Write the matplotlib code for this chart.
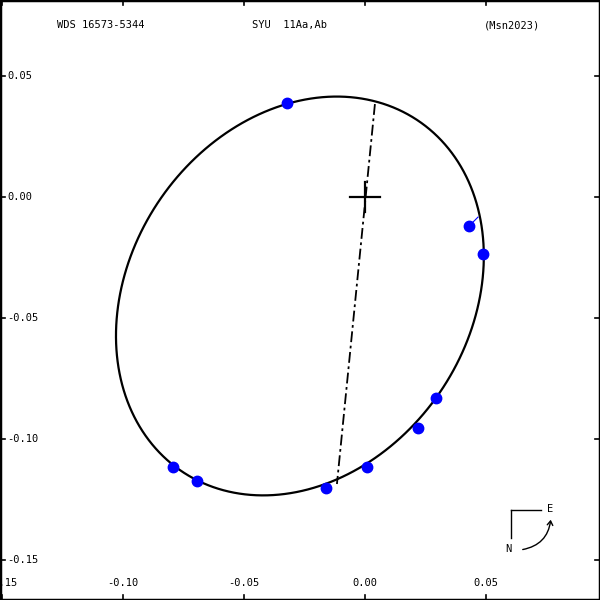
import numpy as np
import matplotlib
matplotlib.use("Agg")
import matplotlib.pyplot as plt
from matplotlib.patches import FancyArrowPatch

# --- data ---
obs_x = [-0.0322, 0.0430, 0.0488, 0.0293, 0.0219, 0.0008, -0.0161, -0.0694, -0.0793]
obs_y = [0.0388, -0.0120, -0.0236, -0.0831, -0.0955, -0.1116, -0.1202, -0.1174, -0.1116]
# residual line for one point (to orbit)
res_x = [0.0430, 0.0467]
res_y = [-0.0120, -0.0083]
# orbit ellipse parameters (center, half-extents, phase)
orb_cx, orb_cy = -0.0269, -0.0409
orb_hx, orb_hy = 0.0760, 0.0824
orb_cosphi = 0.20
# line of nodes end points
node_x = [0.0041, -0.0116]
node_y = [0.0384, -0.1186]
xticks = [-0.15, -0.10, -0.05, 0.00, 0.05]
xtick_labels = ["-0.15", "-0.10", "-0.05", "0.00", "0.05"]
yticks = [0.05, 0.00, -0.05, -0.10, -0.15]
ytick_labels = ["-0.05".replace("-", ""), "0.00", "-0.05", "-0.10", "-0.15"]
ytick_labels[0] = "-0.05" if False else "0.05"

PX = 2420.0
X0, Y0 = 365.0, 197.0

fig = plt.figure(figsize=(6, 6), dpi=100)
ax = fig.add_axes([0, 0, 1, 1])
ax.set_xlim((0 - X0) / PX, (600 - X0) / PX)
ax.set_ylim((Y0 - 600) / PX, (Y0 - 0) / PX)

mono = "DejaVu Sans Mono"

# orbit
t = np.linspace(0, 2 * np.pi, 400)
phi = np.arccos(orb_cosphi)
ex = orb_cx + orb_hx * np.cos(t)
ey = orb_cy + orb_hy * np.cos(t - phi)
ax.plot(ex, ey, color="black", lw=1.6, zorder=2)

# line of nodes
ax.plot(node_x, node_y, color="black", lw=1.3, dashes=(6, 2, 1.5, 2), zorder=2)

# central star cross
c = 15 / PX
ax.plot([-c, c], [0, 0], color="black", lw=1.6, zorder=3)
ax.plot([0, 0], [-c, c], color="black", lw=1.6, zorder=3)

# residual
ax.plot(res_x, res_y, color="blue", lw=0.8, zorder=3)
# observations
ax.plot(obs_x, obs_y, "o", color="#0000ff", ms=7.5, mec="#0000ff", zorder=4, ls="none")

# ticks
ax.set_xticks([])
ax.set_yticks([])
tl = 5 / PX
for xv in xticks:
    ax.plot([xv, xv], [ax.get_ylim()[0], ax.get_ylim()[0] + tl], color="black", lw=1.2, clip_on=True)
    ax.plot([xv, xv], [ax.get_ylim()[1], ax.get_ylim()[1] - tl], color="black", lw=1.2, clip_on=True)
for xv, lab in zip(xticks, xtick_labels):
    ax.text(xv, (Y0 - 583) / PX, lab, ha="center", va="center", fontsize=7.5, family=mono, clip_on=True)
for yv in yticks:
    ax.plot([ax.get_xlim()[0], ax.get_xlim()[0] + tl], [yv, yv], color="black", lw=1.2)
    ax.plot([ax.get_xlim()[1], ax.get_xlim()[1] - tl], [yv, yv], color="black", lw=1.2)
ylabs = ["0.05", "0.00", "-0.05", "-0.10", "-0.15"]
for yv, lab in zip(yticks, ylabs):
    ax.text((7 - X0) / PX, yv, lab, ha="left", va="center", fontsize=7.5, family=mono)

for s in ax.spines.values():
    s.set_linewidth(2.5)

# header
fig.text(101 / 600, 1 - 25 / 600, "WDS 16573-5344", ha="center", va="center", fontsize=7.5, family=mono)
fig.text(290 / 600, 1 - 25 / 600, "SYU  11Aa,Ab", ha="center", va="center", fontsize=7.5, family=mono)
fig.text(512 / 600, 1 - 25 / 600, "(Msn2023)", ha="center", va="center", fontsize=7.5, family=mono)

# compass
def fp(x, y):
    return (x / 600, 1 - y / 600)
fig.add_artist(plt.Line2D([511 / 600, 541 / 600], [1 - 510 / 600, 1 - 510 / 600], color="black", lw=1, transform=fig.transFigure))
fig.add_artist(plt.Line2D([511 / 600, 511 / 600], [1 - 510 / 600, 1 - 538 / 600], color="black", lw=1, transform=fig.transFigure))
fig.text(*fp(550, 509), "E", ha="center", va="center", fontsize=7.5, family=mono)
fig.text(*fp(508, 549), "N", ha="center", va="center", fontsize=7.5, family=mono)
arr = FancyArrowPatch(fp(520, 550), fp(551, 517), transform=fig.transFigure,
                      connectionstyle="arc3,rad=0.4", arrowstyle="->,head_length=3,head_width=2",
                      color="black", lw=1)
fig.add_artist(arr)

fig.savefig("out.png", dpi=100)
